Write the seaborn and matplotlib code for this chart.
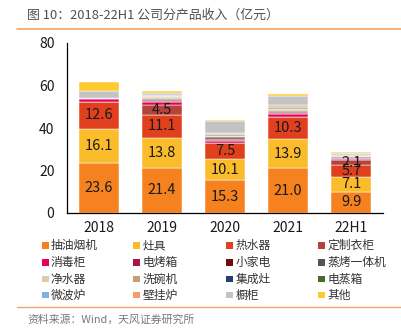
import numpy as np
import pandas as pd
import matplotlib
matplotlib.use("Agg")
import matplotlib.pyplot as plt
import seaborn as sns
from matplotlib.patches import Rectangle
from matplotlib.lines import Line2D

# ---- data (亿元) ----
years = ["2018", "2019", "2020", "2021", "22H1"]
products = ["抽油烟机", "灶具", "热水器", "定制衣柜",
            "消毒柜", "电烤箱", "小家电", "蒸烤一体机",
            "净水器", "洗碗机", "集成灶", "电蒸箱",
            "微波炉", "壁挂炉", "橱柜", "其他"]
hood       = [23.6, 21.4, 15.3, 21.0, 9.9]
stove      = [16.1, 13.8, 10.1, 13.9, 7.1]
heater     = [12.6, 11.1, 7.5, 10.3, 5.7]
wardrobe   = [0.0, 4.5, 0.0, 0.0, 2.1]
sterilizer = [1.3, 1.4, 1.1, 1.4, 0.6]
oven       = [0.3, 0.5, 0.4, 0.5, 0.4]
small_app  = [0.0, 0.4, 0.3, 0.3, 0.2]
steam_oven = [0.0, 0.7, 0.9, 0.8, 0.4]
purifier   = [0.0, 0.6, 0.8, 0.8, 0.5]
dishwasher = [0.0, 0.5, 0.6, 0.8, 0.4]
integrated = [0.0, 0.2, 0.3, 0.3, 0.2]
steamer    = [0.0, 0.1, 0.1, 0.1, 0.1]
microwave  = [0.0, 0.1, 0.1, 0.3, 0.1]
boiler     = [0.0, 0.1, 0.1, 0.3, 0.1]
cabinet    = [3.7, 1.0, 5.5, 4.2, 0.4]
other      = [3.9, 1.0, 0.9, 1.1, 0.3]
labelled = ["抽油烟机", "灶具", "热水器", "定制衣柜"]

series = [hood, stove, heater, wardrobe, sterilizer, oven, small_app, steam_oven,
          purifier, dishwasher, integrated, steamer, microwave, boiler, cabinet, other]
colors = ["#F5821F", "#FBBC2C", "#E0401E", "#B5433A",
          "#E6005C", "#A51A45", "#720C0C", "#555555",
          "#DDCBAA", "#C89F72", "#243F76", "#476B2B",
          "#80B1E0", "#F59B64", "#C3C3C3", "#FFC931"]

df = pd.DataFrame(
    [(i, p, v) for p, vals in zip(products, series) for i, v in enumerate(vals)],
    columns=["pos", "product", "value"],
)

sns.set_theme(style="white")
plt.rcParams["font.family"] = ["Noto Sans CJK SC", "DejaVu Sans"]

fig = plt.figure(figsize=(4.02, 3.33), dpi=100)
ax = fig.add_axes([67 / 402, 1 - 213 / 333, (383 - 67) / 402, (213 - 43) / 333])

# seaborn stacks the last hue level at the bottom, so feed the order reversed
sns.histplot(data=df, x="pos", weights="value", hue="product",
             hue_order=products[::-1], palette=dict(zip(products, colors)),
             multiple="stack", discrete=True, shrink=0.63, alpha=1,
             edgecolor="white", linewidth=0.35, legend=False, ax=ax)

# value labels on the main segments
cum = np.cumsum(np.array(series), axis=0)
for k, p in enumerate(products):
    if p not in labelled:
        continue
    vals = np.array(series[k])
    for i, v in enumerate(vals):
        if v <= 0:
            continue
        ax.text(i, cum[k, i] - v / 2, f"{v:.1f}", ha="center", va="center",
                fontsize=10.5, color="#1a1a1a")

ax.set_xlim(-0.5, len(years) - 0.5)
ax.set_ylim(0, 80)
ax.set_yticks([0, 20, 40, 60, 80])
ax.set_xticks(np.arange(len(years) + 1) - 0.5)
ax.set_xticklabels([])
ax.set_xticks(np.arange(len(years)), minor=True)
ax.set_xticklabels(years, minor=True)
ax.tick_params(axis="x", which="major", direction="out", length=4, width=0.8, color="black")
ax.tick_params(axis="x", which="minor", length=0, labelsize=10, pad=6, labelcolor="#1a1a1a")
ax.tick_params(axis="y", direction="out", length=5, width=0.8, color="black",
               labelsize=10, labelcolor="#1a1a1a", pad=4)
ax.set_xlabel("")
ax.set_ylabel("")
for s in ["top", "right"]:
    ax.spines[s].set_visible(False)
for s in ["left", "bottom"]:
    ax.spines[s].set_color("black")
    ax.spines[s].set_linewidth(0.9)

# legend laid out row by row, four columns
col_x = [41.7, 133.3, 226.0, 318.0]
row_y = [245.7, 262.3, 279.0, 295.0]
for n, (p, c) in enumerate(zip(products, colors)):
    r, cidx = divmod(n, 4)
    x0 = col_x[cidx] / 402
    y0 = 1 - row_y[r] / 333
    fig.patches.append(Rectangle((x0, y0 - 3.4 / 333), 6.8 / 402, 6.8 / 333,
                                 transform=fig.transFigure, facecolor=c,
                                 edgecolor="none"))
    fig.text(x0 + 9.2 / 402, y0, p, ha="left", va="center", fontsize=8.5,
             color="#333333")

# header and footer
fig.text(27 / 402, 1 - 15.5 / 333, "图 10：2018-22H1 公司分产品收入（亿元）",
         ha="left", va="center", fontsize=9.3, color="#505050", fontweight="medium")
fig.add_artist(Line2D([17 / 402, 1], [1 - 29.3 / 333] * 2, transform=fig.transFigure,
                      color="#F5A263", linewidth=1.2))
fig.add_artist(Line2D([17 / 402, 1], [1 - 307.3 / 333] * 2, transform=fig.transFigure,
                      color="#F5A263", linewidth=1.0))
fig.text(27 / 402, 1 - 320 / 333, "资料来源：Wind，天风证券研究所",
         ha="left", va="center", fontsize=7.8, color="#777777")

fig.savefig("out.png", dpi=100)
